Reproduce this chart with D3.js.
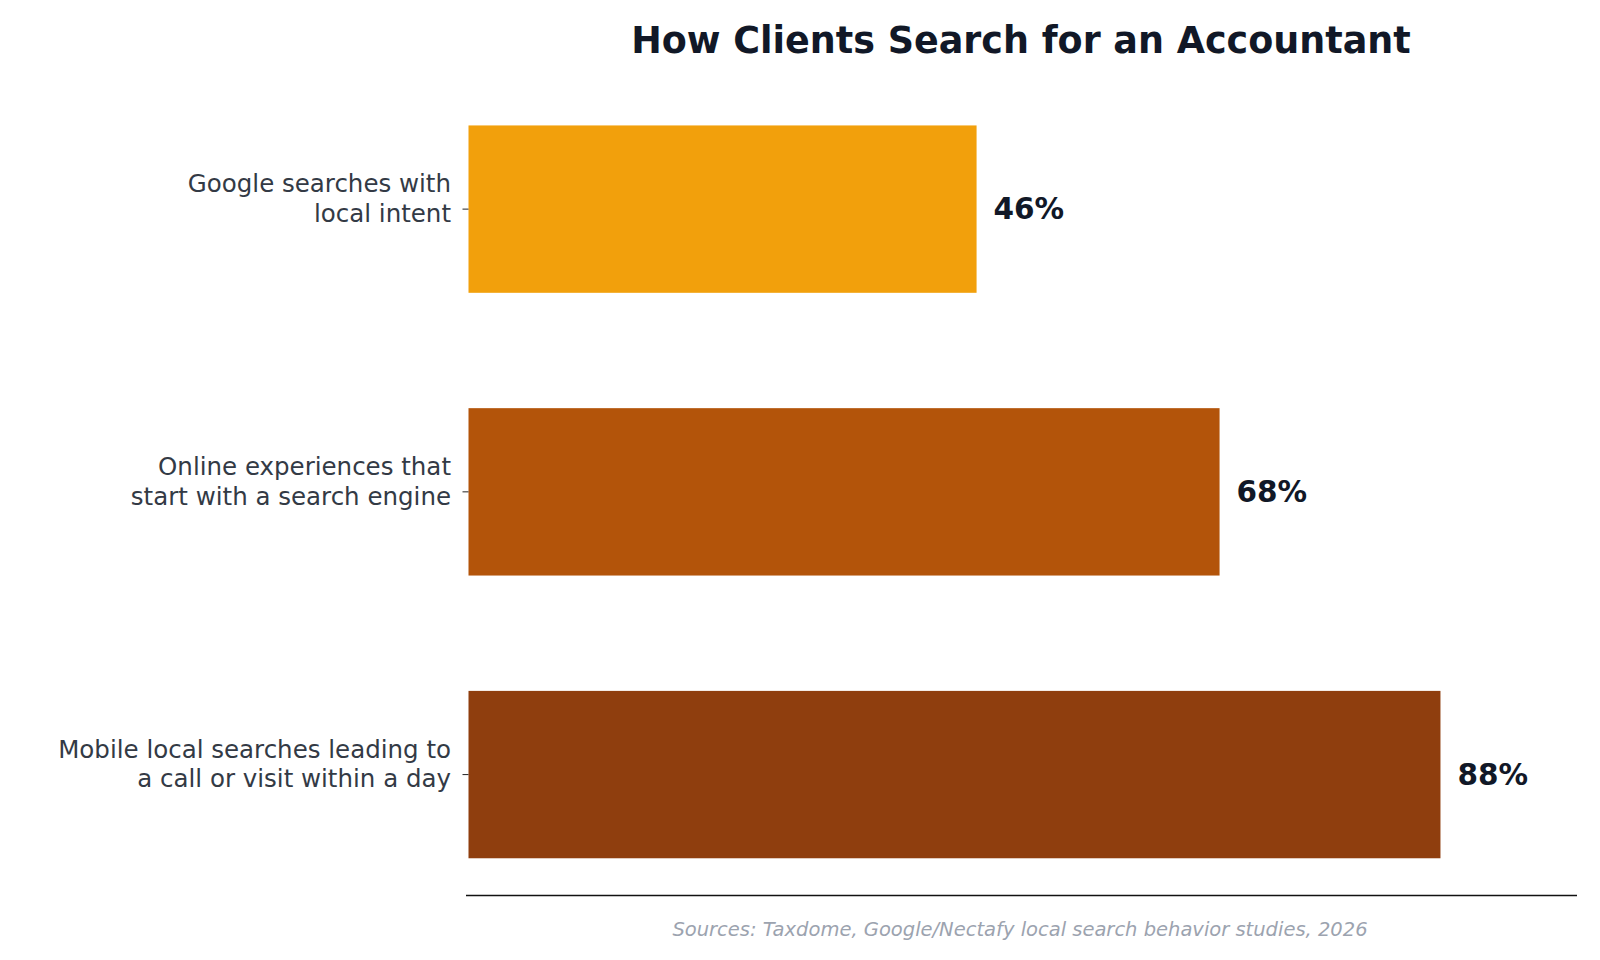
<!DOCTYPE html>
<html><head><meta charset="utf-8">
<script src="https://cdn.jsdelivr.net/npm/d3@7/dist/d3.min.js"></script>
<style>body{margin:0;background:#fff}</style></head>
<body><svg id="c" width="1600" height="960"></svg>
<script>
const categories = [["Google searches with","local intent"],["Online experiences that","start with a search engine"],["Mobile local searches leading to","a call or visit within a day"]];
const values = [46, 68, 88];
const colors = ["#F2A00C", "#B3540A", "#8F3E0E"];
const svg = d3.select("#c");
const font = "DejaVu Sans, sans-serif";
const x = d3.scaleLinear().domain([0, 100]).range([468.5, 1573]);
const y = d3.scaleBand().domain(d3.range(3)).range([86.7, 897]).paddingInner(0.408).paddingOuter(0.137);
svg.append("text").attr("x", 1021).attr("y", 53).attr("text-anchor", "middle")
  .attr("font-family", font).attr("font-weight", "bold").attr("font-size", 36.5).attr("fill", "#111827")
  .text("How Clients Search for an Accountant");
svg.selectAll("rect.bar").data(values).enter().append("rect")
  .attr("x", x(0)).attr("y", (d, i) => y(i)).attr("width", d => x(d) - x(0))
  .attr("height", y.bandwidth()).attr("fill", (d, i) => colors[i]);
svg.selectAll("text.val").data(values).enter().append("text")
  .attr("x", d => x(d) + 17).attr("y", (d, i) => y(i) + y.bandwidth() / 2 + 10)
  .attr("font-family", font).attr("font-weight", "bold").attr("font-size", 29.5).attr("fill", "#111827")
  .text(d => d + "%");
const ax = svg.append("g").attr("transform", "translate(468.5,0)")
  .call(d3.axisLeft(y).tickSize(6).tickFormat(""));
ax.select(".domain").remove();
ax.selectAll("line").attr("stroke", "#222");
categories.forEach((lines, i) => {
  const t = svg.append("text").attr("text-anchor", "end").attr("font-family", font)
    .attr("font-size", 24.5).attr("fill", "#333a45");
  lines.forEach((l, j) => t.append("tspan").attr("x", 451)
    .attr("y", y(i) + y.bandwidth() / 2 - 2 + (j - 0.5) * 29.5).text(l));
});
svg.append("line").attr("x1", 466).attr("x2", 1577).attr("y1", 895.5).attr("y2", 895.5).attr("stroke", "#111").attr("stroke-width", 1.5);
svg.append("text").attr("x", 1020).attr("y", 936).attr("text-anchor", "middle").attr("font-family", font)
  .attr("font-style", "italic").attr("font-size", 19.5).attr("fill", "#9ca3af")
  .text("Sources: Taxdome, Google/Nectafy local search behavior studies, 2026");
</script></body></html>
